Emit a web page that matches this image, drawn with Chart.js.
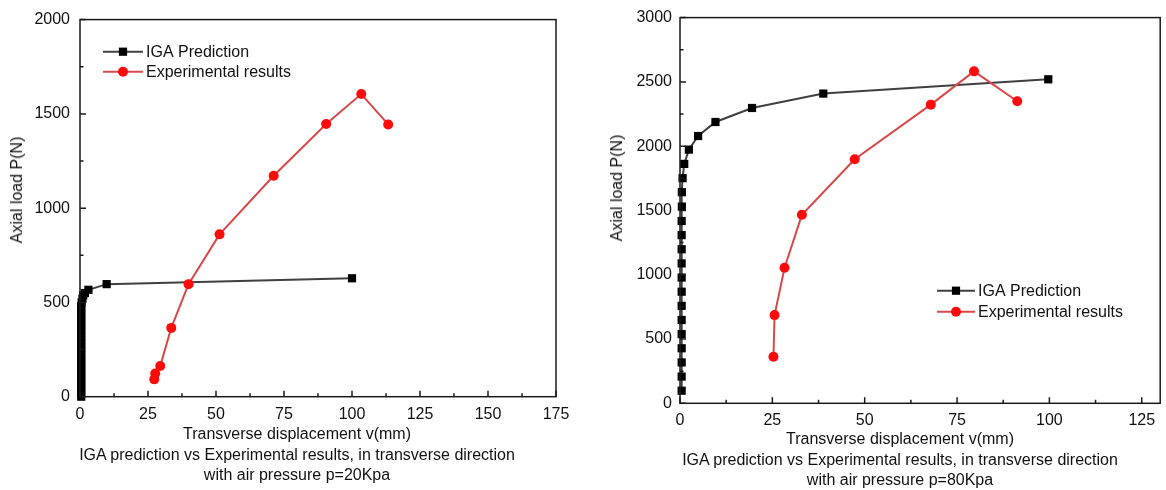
<!DOCTYPE html>
<html>
<head>
<meta charset="utf-8">
<script src="https://cdn.jsdelivr.net/npm/chart.js@4.4.0/dist/chart.umd.min.js"></script>
<style>
  body { margin: 0; background: #fff; width: 1166px; height: 490px; overflow: hidden; position: relative;
         font-family: "Liberation Sans", Arial, sans-serif; color: #111; }
  canvas { position: absolute; top: 0; }
  .t { position: absolute; font-size: 16px; line-height: 18px; white-space: nowrap; transform: translateX(-50%); }
  .yt { position: absolute; font-size: 16px; line-height: 18px; white-space: nowrap; transform: translate(-50%, -50%) rotate(-90deg); }
</style>
</head>
<body>
<canvas id="chart20" width="590" height="490" style="left:0"></canvas>
<canvas id="chart80" width="576" height="490" style="left:590px"></canvas>

<div class="yt" style="left:17px; top:190px">Axial load P(N)</div>
<div class="t" style="left:297px; top:425px">Transverse displacement v(mm)</div>
<div class="t" style="left:297px; top:446px">IGA prediction vs Experimental results, in transverse direction</div>
<div class="t" style="left:297px; top:466px">with air pressure p=20Kpa</div>

<div class="yt" style="left:617px; top:188px">Axial load P(N)</div>
<div class="t" style="left:900px; top:430px">Transverse displacement v(mm)</div>
<div class="t" style="left:900px; top:451px">IGA prediction vs Experimental results, in transverse direction</div>
<div class="t" style="left:900px; top:471px">with air pressure p=80Kpa</div>

<script>
// ---- data: p = 20 kPa ----
const iga20X = [0.45, 0.45, 0.45, 0.45, 0.45, 0.45, 0.45, 0.45, 0.45, 0.45, 0.45, 0.45, 0.45,
                0.45, 0.45, 0.45, 0.45, 0.45, 0.45, 0.45, 0.45, 0.45, 0.45, 0.45, 0.45,
                0.6, 0.9, 1.2, 1.8, 3.1, 9.8, 100];
const iga20Y = [0, 20, 40, 60, 80, 100, 120, 140, 160, 180, 200, 220, 240,
                260, 280, 300, 320, 340, 360, 380, 400, 420, 440, 460, 480,
                500, 520, 538, 550, 567, 597, 628];
const exp20X = [27.3, 27.65, 29.5, 33.55, 39.9, 51.3, 71.2, 90.5, 103.4, 113.3];
const exp20Y = [92, 123, 163, 365, 597, 861, 1172, 1446, 1605, 1444];
const xTicks20 = [0, 25, 50, 75, 100, 125, 150, 175];
const yTicks20 = [0, 500, 1000, 1500, 2000];

// ---- data: p = 80 kPa ----
const iga80X = [0.45, 0.45, 0.45, 0.45, 0.45, 0.45, 0.45, 0.45, 0.45, 0.45, 0.45, 0.45, 0.45, 0.5, 0.5,
                0.7, 1.15, 2.4, 4.9, 9.6, 19.5, 38.8, 99.7];
const iga80Y = [98, 208, 318, 428, 538, 648, 758, 868, 978, 1088, 1198, 1308, 1418, 1530, 1642,
                1751, 1862, 1973, 2079, 2188, 2297, 2409, 2520];
const exp80X = [25.3, 25.6, 28.3, 33.0, 47.3, 67.9, 79.6, 91.3];
const exp80Y = [362, 686, 1054, 1466, 1898, 2323, 2582, 2349];
const xTicks80 = [0, 25, 50, 75, 100, 125];
const yTicks80 = [0, 500, 1000, 1500, 2000, 2500, 3000];

const FONT = '"Liberation Sans", Arial, sans-serif';

function toPoints(xs, ys) {
  return xs.map((x, i) => ({ x: x, y: ys[i] }));
}

function midpoints(ticks) {
  const out = [];
  for (let i = 0; i < ticks.length - 1; i++) out.push((ticks[i] + ticks[i + 1]) / 2);
  return out;
}

// box frame plus inward major/minor ticks on the bottom and left axes
const frameTicks = {
  id: 'frameTicks',
  afterDatasetsDraw(chart, args, opts) {
    const { ctx, chartArea: a, scales: { x, y } } = chart;
    ctx.save();
    ctx.strokeStyle = '#1a1a1a';
    ctx.lineWidth = 1.5;
    ctx.strokeRect(a.left, a.top, a.right - a.left, a.bottom - a.top);
    ctx.beginPath();
    opts.xTicks.forEach(v => { const p = x.getPixelForValue(v); ctx.moveTo(p, a.bottom); ctx.lineTo(p, a.bottom - 6); });
    midpoints(opts.xTicks).forEach(v => { const p = x.getPixelForValue(v); ctx.moveTo(p, a.bottom); ctx.lineTo(p, a.bottom - 3.5); });
    opts.yTicks.forEach(v => { const p = y.getPixelForValue(v); ctx.moveTo(a.left, p); ctx.lineTo(a.left + 6, p); });
    midpoints(opts.yTicks).forEach(v => { const p = y.getPixelForValue(v); ctx.moveTo(a.left, p); ctx.lineTo(a.left + 3.5, p); });
    ctx.stroke();
    ctx.restore();
  }
};

// legend: line with marker in the middle, then the label
const lineLegend = {
  id: 'lineLegend',
  afterDraw(chart, args, opts) {
    const ctx = chart.ctx;
    ctx.save();
    ctx.font = '16px ' + FONT;
    ctx.textBaseline = 'middle';
    chart.data.datasets.forEach((ds, row) => {
      const yy = opts.y + row * opts.dy;
      ctx.strokeStyle = ds.borderColor;
      ctx.lineWidth = 2;
      ctx.beginPath();
      ctx.moveTo(opts.x, yy);
      ctx.lineTo(opts.x + opts.len, yy);
      ctx.stroke();
      const mx = opts.x + opts.len / 2;
      ctx.fillStyle = ds.pointBackgroundColor;
      ctx.beginPath();
      if (ds.pointStyle === 'rect') {
        const s = ds.pointRadius * Math.SQRT1_2;
        ctx.rect(mx - s, yy - s, 2 * s, 2 * s);
      } else {
        ctx.arc(mx, yy, ds.pointRadius, 0, Math.PI * 2);
      }
      ctx.fill();
      ctx.fillStyle = '#111';
      ctx.fillText(ds.label, opts.x + opts.len + 3, yy + 1);
    });
    ctx.restore();
  }
};

function makeChart(id, cfg) {
  const tickFont = { family: FONT, size: 16 };
  return new Chart(document.getElementById(id), {
    type: 'scatter',
    data: {
      datasets: [
        {
          label: 'IGA Prediction',
          data: toPoints(cfg.igaX, cfg.igaY),
          showLine: true,
          clip: false,
          order: 2,
          borderColor: '#404040',
          borderWidth: 2,
          pointStyle: 'rect',
          pointRadius: 5.8,
          pointBorderWidth: 0,
          pointBackgroundColor: '#000',
          pointBorderColor: '#000'
        },
        {
          label: 'Experimental results',
          data: toPoints(cfg.expX, cfg.expY),
          showLine: true,
          order: 1,
          borderColor: '#d84848',
          borderWidth: 2,
          pointStyle: 'circle',
          pointRadius: 5,
          pointBorderWidth: 0,
          pointBackgroundColor: '#ff0a0a',
          pointBorderColor: '#ff0a0a'
        }
      ]
    },
    options: {
      responsive: false,
      animation: false,
      layout: { padding: { top: cfg.top, right: cfg.right, left: 0, bottom: 0 } },
      plugins: {
        legend: { display: false },
        tooltip: { enabled: false },
        frameTicks: { xTicks: cfg.xTicks, yTicks: cfg.yTicks },
        lineLegend: cfg.legend
      },
      scales: {
        x: {
          type: 'linear',
          min: 0,
          max: cfg.xMax,
          afterBuildTicks: s => { s.ticks = cfg.xTicks.map(v => ({ value: v })); },
          afterFit: s => { s.height = cfg.xAxisH; },
          grid: { display: false, drawTicks: false },
          border: { display: false },
          ticks: { padding: 8, font: tickFont, color: '#111', maxRotation: 0, autoSkip: false,
                   callback: v => String(v) }
        },
        y: {
          type: 'linear',
          min: 0,
          max: cfg.yMax,
          afterBuildTicks: s => { s.ticks = cfg.yTicks.map(v => ({ value: v })); },
          afterFit: s => { s.width = cfg.yAxisW; },
          grid: { display: false, drawTicks: false },
          border: { display: false },
          ticks: { padding: cfg.yPad, font: tickFont, color: '#111', autoSkip: false,
                   callback: v => String(v) }
        }
      }
    },
    plugins: [frameTicks, lineLegend]
  });
}

makeChart('chart20', {
  igaX: iga20X, igaY: iga20Y, expX: exp20X, expY: exp20Y,
  xTicks: xTicks20, yTicks: yTicks20, xMax: 175, yMax: 2000,
  top: 16.7, right: 34, xAxisH: 93.3, yAxisW: 80, yPad: 10,
  legend: { x: 103, y: 51.7, dy: 20, len: 40 }
});

makeChart('chart80', {
  igaX: iga80X, igaY: iga80Y, expX: exp80X, expY: exp80Y,
  xTicks: xTicks80, yTicks: yTicks80, xMax: 130, yMax: 3000,
  top: 17.3, right: 3, xAxisH: 86.7, yAxisW: 90, yPad: 8,
  legend: { x: 347, y: 290.7, dy: 21, len: 38 }
});
</script>
</body>
</html>
